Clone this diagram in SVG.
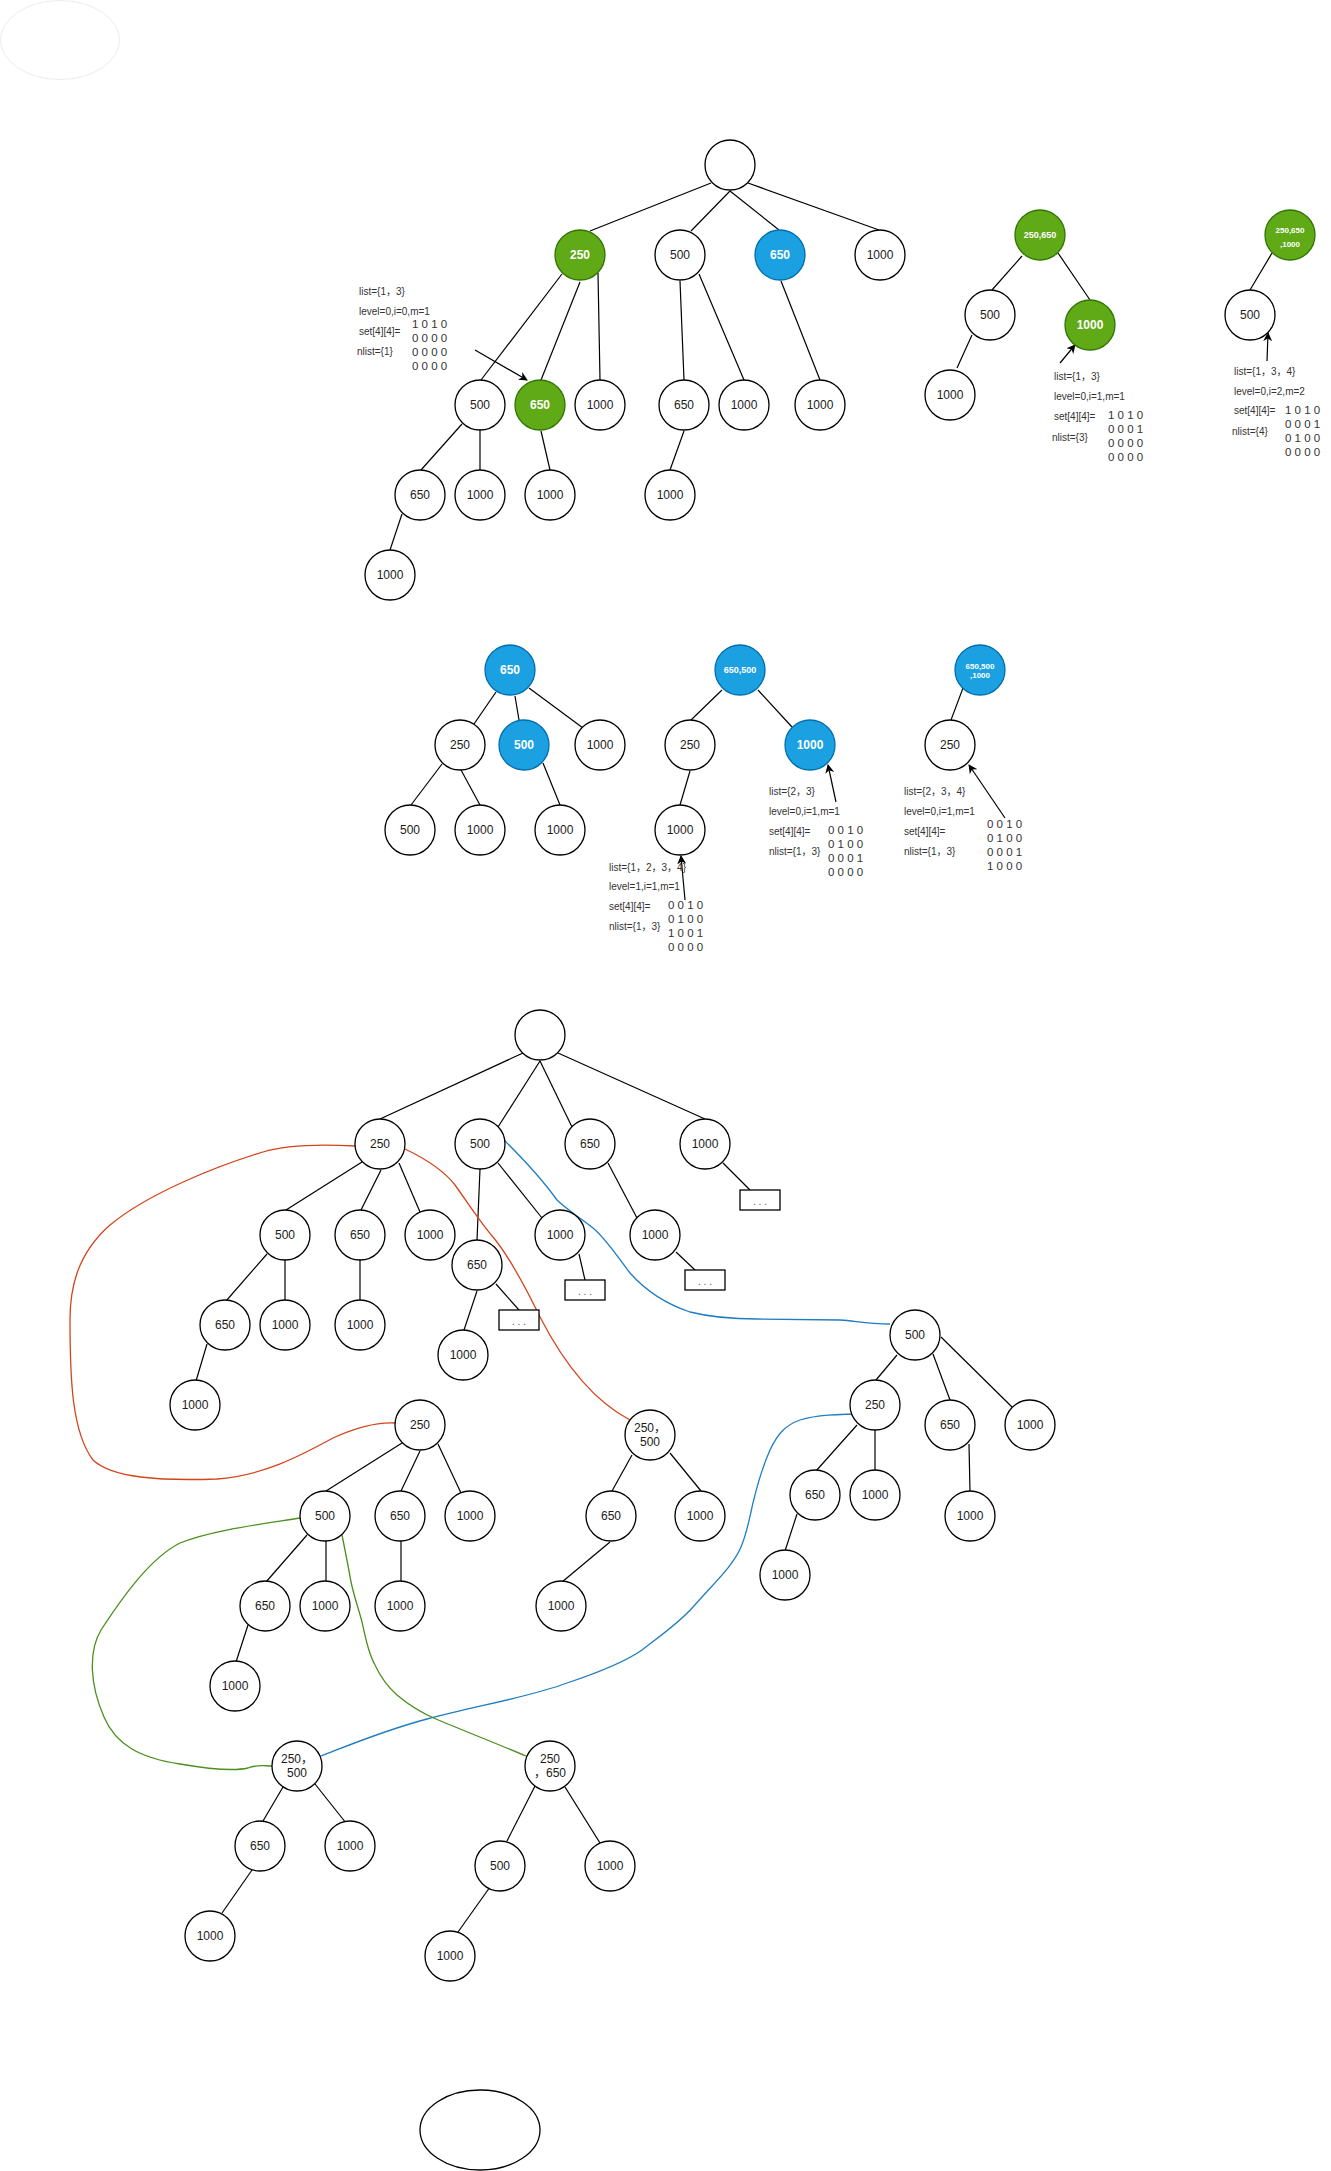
<svg xmlns="http://www.w3.org/2000/svg" width="1331" height="2171" viewBox="0 0 1331 2171">
<style>
.node circle{fill:#fff;stroke:#000;stroke-width:1.3}
.node text{font-family:"Liberation Sans",Arial,"Noto Sans CJK SC",sans-serif;font-size:12px;fill:#1a1a1a;text-anchor:middle;dominant-baseline:central}
.g circle{fill:#60a917;stroke:#2d7600}
.b circle{fill:#1ba1e2;stroke:#006eaf}
.g text,.b text{fill:#fff;font-weight:bold}
.sm text{font-size:9px}
.xs text{font-size:8px}
.edges line{stroke:#000;stroke-width:1.2}
.arr line{stroke:#000;stroke-width:1.2}
.curve{fill:none;stroke-width:1.3}
.note text{font-family:"Liberation Sans","Noto Sans CJK SC",sans-serif;font-size:10px;fill:#333;dominant-baseline:central}
.note .m{font-size:11.5px}
.box rect{fill:#fff;stroke:#000;stroke-width:1.3}
.box text{font-family:"Liberation Sans",sans-serif;font-size:10px;fill:#555;text-anchor:middle;dominant-baseline:central}
</style>
<defs>
<marker id="ah" viewBox="0 0 10 10" refX="9" refY="5" markerWidth="9" markerHeight="9" orient="auto" markerUnits="userSpaceOnUse">
<path d="M0,0 L10,5 L0,10 L3,5 z" fill="#000"/>
</marker>
</defs>
<rect width="1331" height="2171" fill="#fff"/>
<ellipse cx="60" cy="40" rx="59.5" ry="39.5" fill="#fff" stroke="#ececec" stroke-width="1"/>
<ellipse cx="480" cy="2130" rx="60" ry="40" fill="#fff" stroke="#000" stroke-width="1.3"/>

<g id="connectors">
<g class="edges">
<line x1="711" y1="183" x2="590" y2="231"/>
<line x1="730" y1="191" x2="691" y2="231"/>
<line x1="730" y1="191" x2="779" y2="230"/>
<line x1="748" y1="183" x2="879" y2="230"/>
<line x1="562" y1="274" x2="481" y2="380"/>
<line x1="580" y1="282" x2="541" y2="380"/>
<line x1="598" y1="273" x2="600" y2="380"/>
<line x1="680" y1="281" x2="684" y2="380"/>
<line x1="699" y1="274" x2="744" y2="380"/>
<line x1="781" y1="281" x2="820" y2="380"/>
<line x1="462" y1="424" x2="421" y2="470"/>
<line x1="480" y1="430" x2="480" y2="470"/>
<line x1="541" y1="431" x2="550" y2="470"/>
<line x1="684" y1="431" x2="670" y2="470"/>
<line x1="402" y1="514" x2="390" y2="550"/>
<line x1="1022" y1="256" x2="992" y2="290"/>
<line x1="1058" y1="253" x2="1090" y2="300"/>
<line x1="972" y1="335" x2="957" y2="368"/>
<line x1="1272" y1="253" x2="1250" y2="290"/>
<line x1="496" y1="692" x2="474" y2="724"/>
<line x1="515" y1="696" x2="519" y2="720"/>
<line x1="529" y1="688" x2="583" y2="728"/>
<line x1="442" y1="764" x2="411" y2="805"/>
<line x1="461" y1="770" x2="480" y2="805"/>
<line x1="543" y1="763" x2="560" y2="805"/>
<line x1="722" y1="690" x2="691" y2="720"/>
<line x1="758" y1="690" x2="792" y2="727"/>
<line x1="690" y1="771" x2="680" y2="805"/>
<line x1="963" y1="688" x2="951" y2="720"/>
<line x1="523" y1="1053" x2="380" y2="1119"/>
<line x1="540" y1="1061" x2="498" y2="1127"/>
<line x1="540" y1="1061" x2="572" y2="1127"/>
<line x1="558" y1="1053" x2="705" y2="1119"/>
<line x1="480" y1="1169" x2="477" y2="1240"/>
<line x1="498" y1="1163" x2="542" y2="1218"/>
<line x1="608" y1="1163" x2="637" y2="1218"/>
<line x1="723" y1="1163" x2="750" y2="1190"/>
<line x1="676" y1="1252" x2="695" y2="1270"/>
<line x1="579" y1="1254" x2="585" y2="1280"/>
<line x1="496" y1="1284" x2="519" y2="1310"/>
<line x1="477" y1="1291" x2="464" y2="1330"/>
<line x1="362" y1="1162" x2="286" y2="1210"/>
<line x1="381" y1="1170" x2="361" y2="1210"/>
<line x1="399" y1="1163" x2="420" y2="1212"/>
<line x1="267" y1="1254" x2="226" y2="1301"/>
<line x1="285" y1="1260" x2="285" y2="1300"/>
<line x1="360" y1="1260" x2="360" y2="1300"/>
<line x1="207" y1="1344" x2="196" y2="1381"/>
<line x1="402" y1="1443" x2="326" y2="1491"/>
<line x1="420" y1="1451" x2="401" y2="1491"/>
<line x1="438" y1="1444" x2="461" y2="1493"/>
<line x1="307" y1="1535" x2="266" y2="1582"/>
<line x1="326" y1="1541" x2="326" y2="1582"/>
<line x1="401" y1="1541" x2="401" y2="1582"/>
<line x1="248" y1="1625" x2="236" y2="1662"/>
<line x1="632" y1="1455" x2="612" y2="1491"/>
<line x1="670" y1="1453" x2="701" y2="1491"/>
<line x1="610" y1="1542" x2="562" y2="1582"/>
<line x1="897" y1="1355" x2="876" y2="1380"/>
<line x1="933" y1="1354" x2="950" y2="1400"/>
<line x1="941" y1="1337" x2="1012" y2="1407"/>
<line x1="857" y1="1425" x2="816" y2="1471"/>
<line x1="875" y1="1430" x2="875" y2="1470"/>
<line x1="969" y1="1444" x2="970" y2="1492"/>
<line x1="797" y1="1514" x2="785" y2="1551"/>
<line x1="283" y1="1787" x2="263" y2="1821"/>
<line x1="315" y1="1784" x2="346" y2="1823"/>
<line x1="252" y1="1870" x2="222" y2="1913"/>
<line x1="535" y1="1786" x2="507" y2="1841"/>
<line x1="565" y1="1787" x2="600" y2="1843"/>
<line x1="490" y1="1887" x2="458" y2="1932"/>
</g>
<g class="arr">
<line x1="475" y1="350" x2="527" y2="380" marker-end="url(#ah)"/>
<line x1="1060" y1="363" x2="1075" y2="345" marker-end="url(#ah)"/>
<line x1="1267" y1="361" x2="1268" y2="333" marker-end="url(#ah)"/>
<line x1="836" y1="802" x2="828" y2="765" marker-end="url(#ah)"/>
<line x1="1005" y1="818" x2="969" y2="765" marker-end="url(#ah)"/>
<line x1="685" y1="900" x2="681" y2="856" marker-end="url(#ah)"/>
</g>
<path class="curve" stroke="#d4441a" d="M356,1146 C320,1144 285,1145 263,1152 C220,1165 150,1192 110,1225 C76,1255 70,1290 70,1320 C70,1380 72,1432 93,1460 C112,1478 160,1481 217,1479 C262,1476 300,1456 333,1438 C355,1428 378,1422 395,1423"/>
<path class="curve" stroke="#d4441a" d="M405,1149 C428,1160 445,1172 455,1185 C468,1203 480,1222 493,1237 C508,1255 522,1280 540,1317 C558,1352 588,1398 630,1420"/>
<path class="curve" stroke="#1f7dc1" d="M503,1139 C515,1151 537,1172 557,1200 C566,1209 578,1216 593,1228 C606,1239 614,1252 630,1273 C646,1291 666,1304 690,1312 C714,1318 740,1319 757,1319 L840,1320 C856,1321 866,1324 890,1324"/>
<path class="curve" stroke="#1f7dc1" d="M321,1756 C342,1748 382,1731 427,1719 C480,1705 530,1697 567,1683 C600,1672 625,1662 642,1650 C664,1633 680,1622 693,1607 C714,1583 733,1566 741,1547 C748,1530 750,1515 753,1503 C757,1486 762,1468 770,1450 C778,1433 786,1425 800,1420 C816,1415 836,1414 870,1414"/>
<path class="curve" stroke="#4b8f1c" d="M300,1518 C262,1524 212,1530 180,1543 C150,1558 122,1598 101,1630 C88,1652 90,1685 104,1717 C116,1745 140,1758 180,1764 C215,1770 235,1771 248,1768 C258,1764 264,1766 273,1766"/>
<path class="curve" stroke="#4b8f1c" d="M342,1535 C346,1555 349,1570 351,1582 C355,1600 359,1610 362,1622 C366,1640 369,1654 375,1665 C382,1680 389,1688 397,1695 C410,1706 424,1714 436,1719 C462,1730 500,1745 526,1756"/>
</g>

<g id="notes" class="note">
<g id="note1"><text x="359" y="291">list={1，3}</text><text x="359" y="311">level=0,i=0,m=1</text><text x="359" y="331">set[4][4]=</text><text x="357" y="351">nlist={1}</text>
<text class="m" x="412" y="324">1 0 1 0</text><text class="m" x="412" y="338">0 0 0 0</text><text class="m" x="412" y="352">0 0 0 0</text><text class="m" x="412" y="366">0 0 0 0</text></g>
<g id="note2"><text x="1054" y="376">list={1，3}</text><text x="1054" y="396">level=0,i=1,m=1</text><text x="1054" y="416">set[4][4]=</text><text x="1052" y="437">nlist={3}</text>
<text class="m" x="1108" y="415">1 0 1 0</text><text class="m" x="1108" y="429">0 0 0 1</text><text class="m" x="1108" y="443">0 0 0 0</text><text class="m" x="1108" y="457">0 0 0 0</text></g>
<g id="note3"><text x="1234" y="371">list={1，3，4}</text><text x="1234" y="391">level=0,i=2,m=2</text><text x="1234" y="410">set[4][4]=</text><text x="1232" y="431">nlist={4}</text>
<text class="m" x="1285" y="410">1 0 1 0</text><text class="m" x="1285" y="424">0 0 0 1</text><text class="m" x="1285" y="438">0 1 0 0</text><text class="m" x="1285" y="452">0 0 0 0</text></g>
<g id="note4"><text x="609" y="867">list={1，2，3，4}</text><text x="609" y="886">level=1,i=1,m=1</text><text x="609" y="906">set[4][4]=</text><text x="609" y="926">nlist={1，3}</text>
<text class="m" x="668" y="905">0 0 1 0</text><text class="m" x="668" y="919">0 1 0 0</text><text class="m" x="668" y="933">1 0 0 1</text><text class="m" x="668" y="947">0 0 0 0</text></g>
<g id="note5"><text x="769" y="791">list={2，3}</text><text x="769" y="811">level=0,i=1,m=1</text><text x="769" y="831">set[4][4]=</text><text x="769" y="851">nlist={1，3}</text>
<text class="m" x="828" y="830">0 0 1 0</text><text class="m" x="828" y="844">0 1 0 0</text><text class="m" x="828" y="858">0 0 0 1</text><text class="m" x="828" y="872">0 0 0 0</text></g>
<g id="note6"><text x="904" y="791">list={2，3，4}</text><text x="904" y="811">level=0,i=1,m=1</text><text x="904" y="831">set[4][4]=</text><text x="904" y="851">nlist={1，3}</text>
<text class="m" x="987" y="824">0 0 1 0</text><text class="m" x="987" y="838">0 1 0 0</text><text class="m" x="987" y="852">0 0 0 1</text><text class="m" x="987" y="866">1 0 0 0</text></g>
</g>

<g id="nodes">
<g id="a0" class="node"><circle cx="730" cy="165" r="25"/></g>
<g id="a1" class="node g"><circle cx="580" cy="255" r="25"/><text x="580" y="255">250</text></g>
<g id="a2" class="node"><circle cx="680" cy="255" r="25"/><text x="680" y="255">500</text></g>
<g id="a3" class="node b"><circle cx="780" cy="255" r="25"/><text x="780" y="255">650</text></g>
<g id="a4" class="node"><circle cx="880" cy="255" r="25"/><text x="880" y="255">1000</text></g>
<g id="a5" class="node"><circle cx="480" cy="405" r="25"/><text x="480" y="405">500</text></g>
<g id="a6" class="node g"><circle cx="540" cy="405" r="25"/><text x="540" y="405">650</text></g>
<g id="a7" class="node"><circle cx="600" cy="405" r="25"/><text x="600" y="405">1000</text></g>
<g id="a8" class="node"><circle cx="684" cy="405" r="25"/><text x="684" y="405">650</text></g>
<g id="a9" class="node"><circle cx="744" cy="405" r="25"/><text x="744" y="405">1000</text></g>
<g id="a10" class="node"><circle cx="820" cy="405" r="25"/><text x="820" y="405">1000</text></g>
<g id="a11" class="node"><circle cx="420" cy="495" r="25"/><text x="420" y="495">650</text></g>
<g id="a12" class="node"><circle cx="480" cy="495" r="25"/><text x="480" y="495">1000</text></g>
<g id="a13" class="node"><circle cx="550" cy="495" r="25"/><text x="550" y="495">1000</text></g>
<g id="a14" class="node"><circle cx="670" cy="495" r="25"/><text x="670" y="495">1000</text></g>
<g id="a15" class="node"><circle cx="390" cy="575" r="25"/><text x="390" y="575">1000</text></g>

<g id="b0" class="node g sm"><circle cx="1040" cy="235" r="25"/><text x="1040" y="235">250,650</text></g>
<g id="b1" class="node"><circle cx="990" cy="315" r="25"/><text x="990" y="315">500</text></g>
<g id="b2" class="node g"><circle cx="1090" cy="325" r="25"/><text x="1090" y="325">1000</text></g>
<g id="b3" class="node"><circle cx="950" cy="395" r="25"/><text x="950" y="395">1000</text></g>
<g id="c0" class="node g xs"><circle cx="1290" cy="235" r="25"/><text x="1290" y="230">250,650</text><text x="1290" y="244">,1000</text></g>
<g id="c1" class="node"><circle cx="1250" cy="315" r="25"/><text x="1250" y="315">500</text></g>

<g id="d0" class="node b"><circle cx="510" cy="670" r="25"/><text x="510" y="670">650</text></g>
<g id="d1" class="node"><circle cx="460" cy="745" r="25"/><text x="460" y="745">250</text></g>
<g id="d2" class="node b"><circle cx="524" cy="745" r="25"/><text x="524" y="745">500</text></g>
<g id="d3" class="node"><circle cx="600" cy="745" r="25"/><text x="600" y="745">1000</text></g>
<g id="d4" class="node"><circle cx="410" cy="830" r="25"/><text x="410" y="830">500</text></g>
<g id="d5" class="node"><circle cx="480" cy="830" r="25"/><text x="480" y="830">1000</text></g>
<g id="d6" class="node"><circle cx="560" cy="830" r="25"/><text x="560" y="830">1000</text></g>
<g id="e0" class="node b sm"><circle cx="740" cy="670" r="25"/><text x="740" y="670">650,500</text></g>
<g id="e1" class="node"><circle cx="690" cy="745" r="25"/><text x="690" y="745">250</text></g>
<g id="e2" class="node b"><circle cx="810" cy="745" r="25"/><text x="810" y="745">1000</text></g>
<g id="e3" class="node"><circle cx="680" cy="830" r="25"/><text x="680" y="830">1000</text></g>
<g id="f0" class="node b xs"><circle cx="980" cy="670" r="25"/><text x="980" y="666">650,500</text><text x="980" y="675">,1000</text></g>
<g id="f1" class="node"><circle cx="950" cy="745" r="25"/><text x="950" y="745">250</text></g>

<g id="g0" class="node"><circle cx="540" cy="1035" r="25"/></g>
<g id="g1" class="node"><circle cx="380" cy="1144" r="25"/><text x="380" y="1144">250</text></g>
<g id="g2" class="node"><circle cx="480" cy="1144" r="25"/><text x="480" y="1144">500</text></g>
<g id="g3" class="node"><circle cx="590" cy="1144" r="25"/><text x="590" y="1144">650</text></g>
<g id="g4" class="node"><circle cx="705" cy="1144" r="25"/><text x="705" y="1144">1000</text></g>
<g id="g5" class="node"><circle cx="285" cy="1235" r="25"/><text x="285" y="1235">500</text></g>
<g id="g6" class="node"><circle cx="360" cy="1235" r="25"/><text x="360" y="1235">650</text></g>
<g id="g7" class="node"><circle cx="430" cy="1235" r="25"/><text x="430" y="1235">1000</text></g>
<g id="g8" class="node"><circle cx="477" cy="1265" r="25"/><text x="477" y="1265">650</text></g>
<g id="g9" class="node"><circle cx="560" cy="1235" r="25"/><text x="560" y="1235">1000</text></g>
<g id="g10" class="node"><circle cx="655" cy="1235" r="25"/><text x="655" y="1235">1000</text></g>
<g id="g11" class="node"><circle cx="225" cy="1325" r="25"/><text x="225" y="1325">650</text></g>
<g id="g12" class="node"><circle cx="285" cy="1325" r="25"/><text x="285" y="1325">1000</text></g>
<g id="g13" class="node"><circle cx="360" cy="1325" r="25"/><text x="360" y="1325">1000</text></g>
<g id="g14" class="node"><circle cx="195" cy="1405" r="25"/><text x="195" y="1405">1000</text></g>
<g id="g15" class="node"><circle cx="463" cy="1355" r="25"/><text x="463" y="1355">1000</text></g>
<g id="box1" class="box"><rect x="740" y="1190" width="40" height="20"/><text x="760" y="1201">. . .</text></g>
<g id="box2" class="box"><rect x="685" y="1270" width="40" height="20"/><text x="705" y="1281">. . .</text></g>
<g id="box3" class="box"><rect x="565" y="1280" width="40" height="20"/><text x="585" y="1291">. . .</text></g>
<g id="box4" class="box"><rect x="499" y="1310" width="40" height="20"/><text x="519" y="1321">. . .</text></g>

<g id="h0" class="node"><circle cx="420" cy="1425" r="25"/><text x="420" y="1425">250</text></g>
<g id="h1" class="node"><circle cx="325" cy="1516" r="25"/><text x="325" y="1516">500</text></g>
<g id="h2" class="node"><circle cx="400" cy="1516" r="25"/><text x="400" y="1516">650</text></g>
<g id="h3" class="node"><circle cx="470" cy="1516" r="25"/><text x="470" y="1516">1000</text></g>
<g id="h4" class="node"><circle cx="265" cy="1606" r="25"/><text x="265" y="1606">650</text></g>
<g id="h5" class="node"><circle cx="325" cy="1606" r="25"/><text x="325" y="1606">1000</text></g>
<g id="h6" class="node"><circle cx="400" cy="1606" r="25"/><text x="400" y="1606">1000</text></g>
<g id="h7" class="node"><circle cx="235" cy="1686" r="25"/><text x="235" y="1686">1000</text></g>

<g id="i0" class="node"><circle cx="650" cy="1435" r="25"/><text x="650" y="1428">250，</text><text x="650" y="1442">500</text></g>
<g id="i1" class="node"><circle cx="611" cy="1516" r="25"/><text x="611" y="1516">650</text></g>
<g id="i2" class="node"><circle cx="700" cy="1516" r="25"/><text x="700" y="1516">1000</text></g>
<g id="i3" class="node"><circle cx="561" cy="1606" r="25"/><text x="561" y="1606">1000</text></g>

<g id="j0" class="node"><circle cx="915" cy="1335" r="25"/><text x="915" y="1335">500</text></g>
<g id="j1" class="node"><circle cx="875" cy="1405" r="25"/><text x="875" y="1405">250</text></g>
<g id="j2" class="node"><circle cx="950" cy="1425" r="25"/><text x="950" y="1425">650</text></g>
<g id="j3" class="node"><circle cx="1030" cy="1425" r="25"/><text x="1030" y="1425">1000</text></g>
<g id="j4" class="node"><circle cx="815" cy="1495" r="25"/><text x="815" y="1495">650</text></g>
<g id="j5" class="node"><circle cx="875" cy="1495" r="25"/><text x="875" y="1495">1000</text></g>
<g id="j6" class="node"><circle cx="970" cy="1516" r="25"/><text x="970" y="1516">1000</text></g>
<g id="j7" class="node"><circle cx="785" cy="1575" r="25"/><text x="785" y="1575">1000</text></g>

<g id="k0" class="node"><circle cx="297" cy="1766" r="25"/><text x="297" y="1759">250，</text><text x="297" y="1773">500</text></g>
<g id="k1" class="node"><circle cx="260" cy="1846" r="25"/><text x="260" y="1846">650</text></g>
<g id="k2" class="node"><circle cx="350" cy="1846" r="25"/><text x="350" y="1846">1000</text></g>
<g id="k3" class="node"><circle cx="210" cy="1936" r="25"/><text x="210" y="1936">1000</text></g>
<g id="l0" class="node"><circle cx="550" cy="1766" r="25"/><text x="550" y="1759">250</text><text x="550" y="1773">，650</text></g>
<g id="l1" class="node"><circle cx="500" cy="1866" r="25"/><text x="500" y="1866">500</text></g>
<g id="l2" class="node"><circle cx="610" cy="1866" r="25"/><text x="610" y="1866">1000</text></g>
<g id="l3" class="node"><circle cx="450" cy="1956" r="25"/><text x="450" y="1956">1000</text></g>
</g>
</svg>
